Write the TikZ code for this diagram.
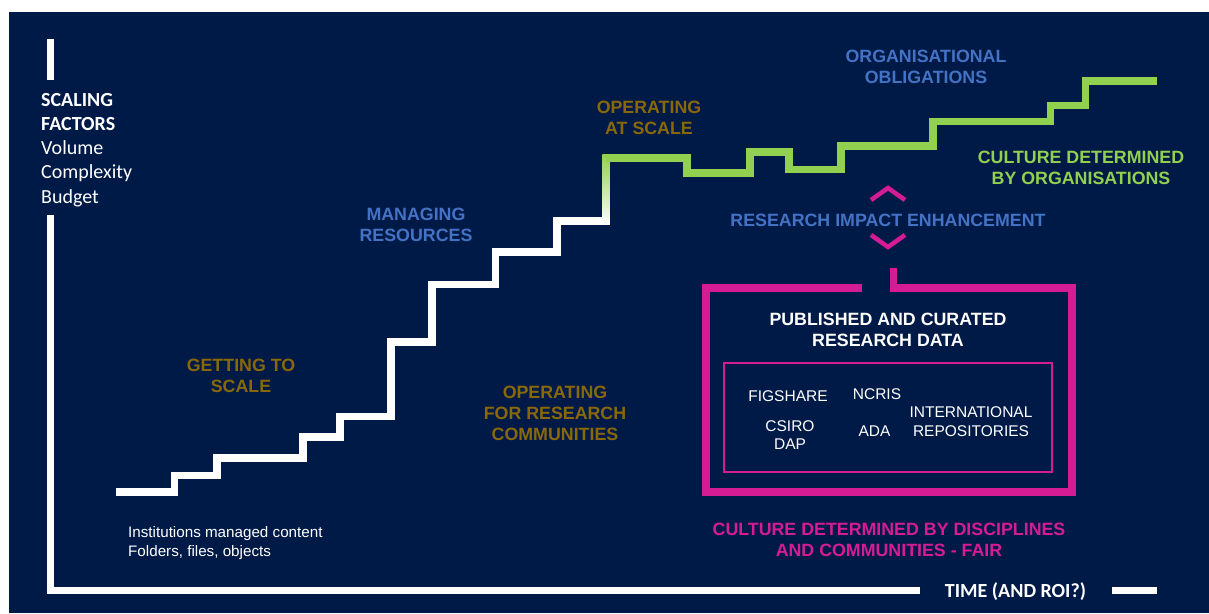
\documentclass[tikz,border=0pt]{standalone}
\usepackage{fontspec}
\setmainfont{Liberation Sans}
\newfontfamily\calibri{Carlito}
\definecolor{navy}{RGB}{0,26,72}
\definecolor{gold}{RGB}{137,104,8}
\definecolor{sky}{RGB}{68,114,196}
\definecolor{lime}{RGB}{146,208,80}
\definecolor{pink}{RGB}{214,28,148}
\tikzset{lb/.style = {font=\bfseries\fontsize{17.8}{21}\selectfont, align=center, inner sep=0pt},
           rp/.style = {font=\fontsize{15.5}{18.5}\selectfont, text=white, align=center, inner sep=0pt},
           ax/.style = {draw=white, line width=7pt},
           st/.style = {line width=7.5pt, miter limit=4}}

\begin{document}
\begin{tikzpicture}[x=1pt, y=-1pt]
    \useasboundingbox (0,0) rectangle (1209,613);
    \fill[white] (0,0) rectangle (1209,613);
    \fill[navy] (9,12) rectangle (1209,613);

    % axes
    \coordinate (yt) at (50,39); \coordinate (yb) at (50,80);
    \coordinate (y0) at (50,215); \coordinate (o) at (50,590);
    \coordinate (x0) at (920,590); \coordinate (x1) at (1112,590); \coordinate (x2) at (1157,590);
    \draw[ax] (yt) -- (yb);
    \draw[ax] (y0) -- (o) -- (x0);
    \draw[ax] (x1) -- (x2);
    \node[font=\calibri\fontsize{20}{24.2}\selectfont, text=white, align=left, inner sep=0pt, anchor=base west] (sf) at (41,203)
        {\textbf{SCALING}\\\textbf{FACTORS}\\Volume\\Complexity\\Budget};
    \node[font=\calibri\bfseries\fontsize{20}{24}\selectfont, text=white, inner sep=0pt, anchor=base] (tm) at (1015.5,597) {TIME (AND ROI?)};

    % staircase
    \draw[st, white] (116,492) -- (174.5,492) -- (174.5,475.5) -- (217,475.5) -- (217,458) -- (303,458) -- (303,437)
        -- (340,437) -- (340,416.5) -- (391,416.5) -- (391,342) -- (432,342) -- (432,284.5) -- (495.5,284.5)
        -- (495.5,252) -- (557,252) -- (557,221) -- (606,221);
    \shade[bottom color=white, middle color=lime!35!white, top color=lime] (602.25,224.75) rectangle (609.75,154.25);
    \draw[st, lime] (606,158) -- (687,158) -- (687,173) -- (750,173) -- (750,152) -- (789,152) -- (789,169.5)
        -- (841,169.5) -- (841,146) -- (933,146) -- (933,121.5) -- (1050.5,121.5) -- (1050.5,105.5)
        -- (1085.5,105.5) -- (1085.5,81) -- (1157,81);

    \node[lb, text=gold] (gs) at (241,375.5) {GETTING TO\\SCALE};
    \node[lb, text=sky]  (mr) at (416,224.5) {MANAGING\\RESOURCES};
    \node[lb, text=gold] (os) at (649,118) {OPERATING\\AT SCALE};
    \node[lb, text=sky]  (oo) at (926,66.5) {ORGANISATIONAL\\OBLIGATIONS};
    \node[lb, text=lime] (co) at (1081,168) {CULTURE DETERMINED\\BY ORGANISATIONS};
    \node[lb, text=gold] (or) at (555,413) {OPERATING\\FOR RESEARCH\\COMMUNITIES};
    \node[lb, text=sky]  (ri) at (888,220) {RESEARCH IMPACT ENHANCEMENT};
    \node[lb, text=pink] (cd) at (889,540) {CULTURE DETERMINED BY DISCIPLINES\\AND COMMUNITIES - FAIR};
    \node[font=\fontsize{15.2}{19.5}\selectfont, text=white, align=left, inner sep=0pt, anchor=base west] (ic) at (128,556.5)
        {Institutions managed content\\Folders, files, objects};

    % chevrons and data box
    \draw[pink, line width=4.5pt] (871,200) -- (888,188) -- (905,200);
    \draw[pink, line width=4.5pt] (871,235) -- (888,247) -- (905,235);
    \draw[pink, line width=7.5pt] (862,288) -- (706,288) -- (706,492) -- (1072,492) -- (1072,288) -- (893.5,288) -- (893.5,268);
    \draw[pink, line width=1.3pt] (724,363) rectangle (1052,472);
    \node[lb, text=white] (pc) at (888,330) {PUBLISHED AND CURATED\\RESEARCH DATA};
    \node[rp] (fg) at (788,396) {FIGSHARE};
    \node[rp] (nc) at (877,394) {NCRIS};
    \node[rp] (cs) at (790,435) {CSIRO\\DAP};
    \node[rp] (ad) at (874.5,431) {ADA};
    \node[rp] (ir) at (971,421.7) {INTERNATIONAL\\REPOSITORIES};
\end{tikzpicture}
\end{document}
